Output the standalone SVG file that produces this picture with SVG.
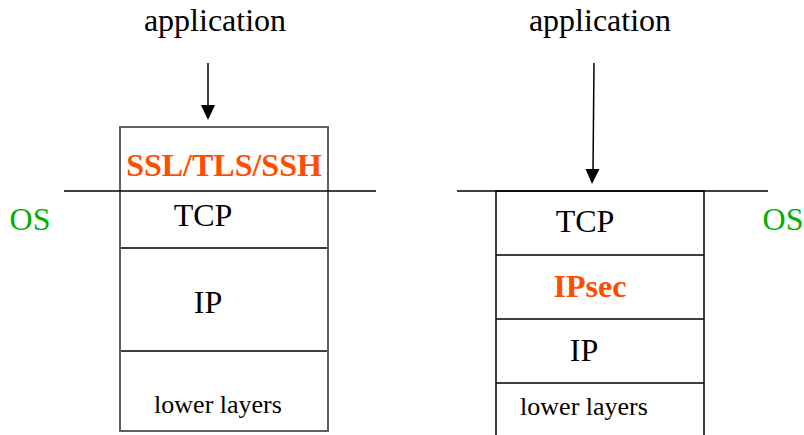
<svg xmlns="http://www.w3.org/2000/svg" width="804" height="435" viewBox="0 0 804 435">
<style>
.t{font-family:'Liberation Serif','DejaVu Serif',serif;font-size:32px;fill:#000;text-anchor:middle}
.s{font-size:26px}
.r{font-weight:bold;fill:#ff4d00}
.g{fill:#00b000}
.ln{stroke:#000;stroke-width:1.5;fill:none}
.gb{stroke:#5f5f5f;stroke-width:2;fill:none}
</style>
<rect width="804" height="435" fill="#fff"/>
<g id="left-stack">
  <rect class="gb" x="120" y="127" width="208" height="304"/>
  <line class="ln" x1="121" y1="248" x2="327" y2="248"/>
  <line class="ln" x1="121" y1="351" x2="327" y2="351"/>
</g>
<g id="right-stack">
  <polyline class="ln" points="496,436 496,191 704,191 704,436"/>
  <line class="ln" x1="496" y1="255" x2="704" y2="255"/>
  <line class="ln" x1="496" y1="319" x2="704" y2="319"/>
  <line class="ln" x1="496" y1="383" x2="704" y2="383"/>
</g>
<g id="os-lines">
  <line class="ln" x1="64" y1="191" x2="376" y2="191"/>
  <line class="ln" x1="457" y1="191" x2="768" y2="191"/>
</g>
<g id="connectors">
  <line class="ln" x1="208" y1="63" x2="208" y2="106"/>
  <polygon points="201,105 215,105 208,120" fill="#000"/>
  <line class="ln" x1="594" y1="63" x2="593" y2="170"/>
  <polygon points="585.5,169 599.5,169 592,184" fill="#000"/>
</g>
<g id="labels">
  <text class="t" x="215" y="31">application</text>
  <text class="t" x="600" y="31">application</text>
  <text class="t r" x="224" y="176">SSL/TLS/SSH</text>
  <text class="t" x="203" y="226">TCP</text>
  <text class="t" x="208" y="313">IP</text>
  <text class="t s" x="218" y="413">lower layers</text>
  <text class="t g" x="30" y="230">OS</text>
  <text class="t" x="585" y="232">TCP</text>
  <text class="t r" x="590" y="297">IPsec</text>
  <text class="t" x="584" y="361">IP</text>
  <text class="t s" x="584" y="415">lower layers</text>
  <text class="t g" x="783" y="230">OS</text>
</g>
</svg>
